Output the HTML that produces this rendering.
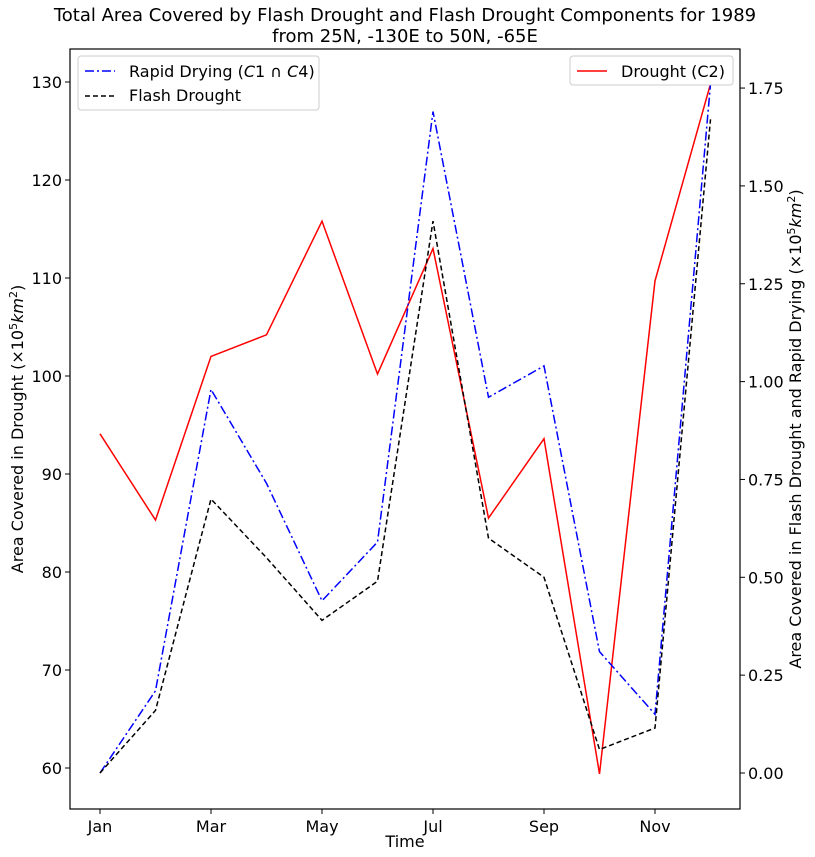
<!DOCTYPE html>
<html><head><meta charset="utf-8"><style>
body{margin:0;background:#fff;}
svg{display:block;font-family:"DejaVu Sans","Liberation Sans",sans-serif;}
</style></head><body>
<svg id="chart" width="815" height="857"></svg>
<script>
const months = ["Jan","Feb","Mar","Apr","May","Jun","Jul","Aug","Sep","Oct","Nov","Dec"];
const droughtC2 = [94.1,85.3,102.0,104.2,115.8,100.2,113.0,85.5,93.6,59.4,109.7,129.8];
const rapidDrying = [0.00,0.21,0.98,0.74,0.44,0.59,1.69,0.96,1.04,0.31,0.15,1.76];
const flashDrought = [0.00,0.16,0.70,0.55,0.39,0.49,1.41,0.60,0.50,0.06,0.115,1.67];
const xTickLabels = ["Jan","Mar","May","Jul","Sep","Nov"];
const leftTicks = [60,70,80,90,100,110,120,130];
const rightTicks = [0,0.25,0.5,0.75,1.0,1.25,1.5,1.75];

const NS="http://www.w3.org/2000/svg";
const svg=document.getElementById('chart');
const L=70,R=740,T=49,B=809;
const xS=i=>100+i*55.5;
const yL=v=>768-(v-60)*9.8;
const yR=v=>773-v*391.4;
function el(tag,attrs,parent){const e=document.createElementNS(NS,tag);for(const k in attrs)e.setAttribute(k,attrs[k]);(parent||svg).appendChild(e);return e;}

const title=el('text',{x:405,y:21,'text-anchor':'middle','font-size':18});


title.textContent='Total Area Covered by Flash Drought and Flash Drought Components for 1989';
const title2=el('text',{x:405,y:42,'text-anchor':'middle','font-size':18});


title2.textContent='from 25N, -130E to 50N, -65E';

function line(vals,sc,color,dash,name){
  const p=el('polyline',{points:vals.map((v,i)=>xS(i)+','+sc(v)).join(' '),fill:'none',stroke:color,'stroke-width':1.5,'stroke-dasharray':dash||''});
  
  
}
line(droughtC2,yL,'#ff0000','', 'drought-c2-line');
line(rapidDrying,yR,'#0000ff','9,3,2,3','rapid-drying-line');
line(flashDrought,yR,'#000000','5,3','flash-drought-line');

const frame=el('rect',{x:L,y:T,width:R-L,height:B-T,fill:'none',stroke:'#000','stroke-width':1.2});



xTickLabels.forEach((m,j)=>{
  const x=xS(months.indexOf(m));
  el('line',{x1:x,x2:x,y1:B,y2:B+5,stroke:'#000'});
  const t=el('text',{x:x,y:B+23,'text-anchor':'middle','font-size':16});
  
  
  t.textContent=m;
});
leftTicks.forEach(v=>{
  const y=yL(v);
  el('line',{x1:L-5,x2:L,y1:y,y2:y,stroke:'#000'});
  const t=el('text',{x:L-8,y:y+6,'text-anchor':'end','font-size':16});
  
  
  t.textContent=v;
});
rightTicks.forEach(v=>{
  const y=yR(v);
  el('line',{x1:R,x2:R+5,y1:y,y2:y,stroke:'#000'});
  const t=el('text',{x:R+8,y:y+6,'text-anchor':'start','font-size':16});
  
  
  t.textContent=v.toFixed(2);
});
const xt=el('text',{x:405,y:847,'text-anchor':'middle','font-size':16});


xt.textContent='Time';
const yt=el('text',{x:0,y:0,'text-anchor':'middle','font-size':16,transform:'translate(23,429) rotate(-90)'});


yt.innerHTML='Area Covered in Drought (×10<tspan dy="-6" font-size="11">5</tspan><tspan dy="6" font-style="italic">km</tspan><tspan dy="-6" font-size="11">2</tspan><tspan dy="6">)</tspan>';
const yt2=el('text',{x:0,y:0,'text-anchor':'middle','font-size':16,transform:'translate(801,429) rotate(-90)'});


yt2.innerHTML='Area Covered in Flash Drought and Rapid Drying (×10<tspan dy="-6" font-size="11">5</tspan><tspan dy="6" font-style="italic">km</tspan><tspan dy="-6" font-size="11">2</tspan><tspan dy="6">)</tspan>';

const lg1=el('g',{});


el('rect',{x:78,y:56,width:241,height:54,rx:3,fill:'#fff',stroke:'#ccc'},lg1);
el('line',{x1:85,x2:115,y1:71,y2:71,stroke:'#0000ff','stroke-width':1.5,'stroke-dasharray':'9,3,2,3'},lg1);
el('line',{x1:85,x2:115,y1:96,y2:96,stroke:'#000','stroke-width':1.5,'stroke-dasharray':'5,3'},lg1);
const a=el('text',{x:129,y:77,'font-size':16},lg1);


a.innerHTML='Rapid Drying (<tspan font-style="italic">C</tspan>1 ∩ <tspan font-style="italic">C</tspan>4)';
const b=el('text',{x:129,y:101,'font-size':16},lg1);


b.textContent='Flash Drought';
const lg2=el('g',{});


el('rect',{x:570,y:56,width:163,height:29,rx:3,fill:'#fff',stroke:'#ccc'},lg2);
el('line',{x1:577,x2:607,y1:71,y2:71,stroke:'#ff0000','stroke-width':1.5},lg2);
const c=el('text',{x:621,y:77,'font-size':16},lg2);


c.textContent='Drought (C2)';
</script>
</body></html>
